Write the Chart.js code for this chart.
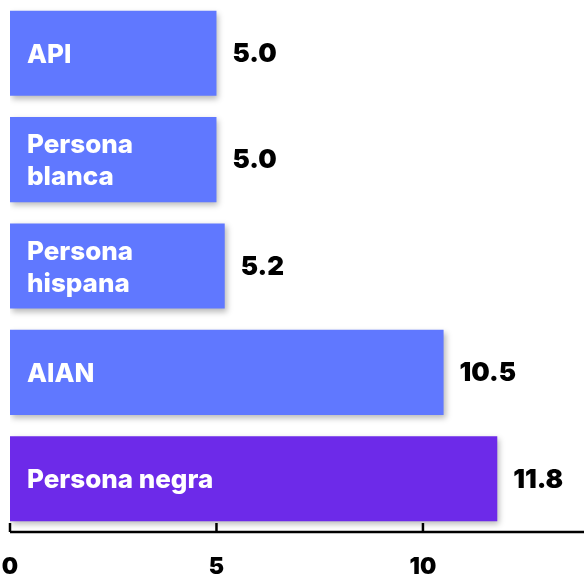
<!DOCTYPE html>
<html>
<head>
<meta charset="utf-8">
<script src="https://cdn.jsdelivr.net/npm/chart.js@4"></script>
<style>
  html, body { margin: 0; padding: 0; background: #fff; }
  #wrap { width: 584px; height: 578px; position: relative; }
</style>
</head>
<body>
<div id="wrap"><canvas id="grafico"></canvas></div>
<script>
// datos
const categorias = [['API'], ['Persona', 'blanca'], ['Persona', 'hispana'], ['AIAN'], ['Persona negra']];
const valores = [5.0, 5.0, 5.2, 10.5, 11.8];
const colores = ['#6078FF', '#6078FF', '#6078FF', '#6078FF', '#6D2AE9'];
const marcasX = [0, 5, 10];

const FONT = 'Inter, "DejaVu Sans", sans-serif';

// etiquetas dentro de las barras + valores fuera
const etiquetasPlugin = {
  id: 'etiquetas',
  beforeDatasetsDraw(chart) {
    const ctx = chart.ctx;
    ctx.save();
    ctx.shadowColor = 'rgba(0,0,0,0.28)';
    ctx.shadowBlur = 6;
    ctx.shadowOffsetX = 2;
    ctx.shadowOffsetY = 3;
  },
  afterDatasetsDraw(chart) {
    const ctx = chart.ctx;
    ctx.restore();
    const meta = chart.getDatasetMeta(0);
    meta.data.forEach((bar, i) => {
      const lineas = categorias[i];
      ctx.save();
      ctx.fillStyle = '#ffffff';
      ctx.font = '800 26px ' + FONT;
      ctx.textBaseline = 'alphabetic';
      ctx.textAlign = 'left';
      const lh = 32;
      const capH = 19;
      const y0 = bar.y - (lineas.length - 1) * lh / 2 + capH / 2;
      lineas.forEach((t, k) => ctx.fillText(t, bar.base + 17, y0 + k * lh));
      ctx.fillStyle = '#000000';
      ctx.font = '900 26px ' + FONT;
      ctx.textBaseline = 'middle';
      ctx.fillText(valores[i].toFixed(1), bar.x + 16, bar.y + 1);
      ctx.restore();
    });
  },
  afterDraw(chart) {
    const ctx = chart.ctx;
    const x = chart.scales.x;
    const y = chart.chartArea.bottom;
    ctx.save();
    ctx.strokeStyle = '#000';
    ctx.lineWidth = 2.5;
    ctx.beginPath();
    ctx.moveTo(x.getPixelForValue(0), y);
    ctx.lineTo(chart.width, y);
    ctx.stroke();
    marcasX.forEach(v => {
      const px = x.getPixelForValue(v);
      ctx.beginPath();
      ctx.moveTo(px, y);
      ctx.lineTo(px, y - 9);
      ctx.stroke();
    });
    ctx.restore();
  }
};

new Chart(document.getElementById('grafico'), {
  type: 'bar',
  data: {
    labels: categorias.map(c => c.join(' ')),
    datasets: [{
      data: valores,
      backgroundColor: colores,
      borderWidth: 0,
      barPercentage: 0.8,
      categoryPercentage: 1.0
    }]
  },
  options: {
    indexAxis: 'y',
    responsive: true,
    maintainAspectRatio: false,
    animation: false,
    layout: { autoPadding: false, padding: { left: 10, right: 0, top: 0, bottom: 0 } },
    plugins: {
      legend: { display: false },
      tooltip: { enabled: false }
    },
    scales: {
      x: {
        min: 0,
        max: 13.9,
        afterBuildTicks: axis => { axis.ticks = marcasX.map(v => ({ value: v })); },
        afterFit: axis => {
          axis.height = 46;
          axis.paddingLeft = 0;
          axis.paddingRight = 0;
        },
        grid: { display: false, drawTicks: false },
        border: { display: false },
        ticks: {
          padding: 21,
          color: '#000',
          font: { family: FONT, size: 23, weight: '900' }
        }
      },
      y: {
        display: false
      }
    }
  },
  plugins: [etiquetasPlugin]
});
</script>
</body>
</html>
